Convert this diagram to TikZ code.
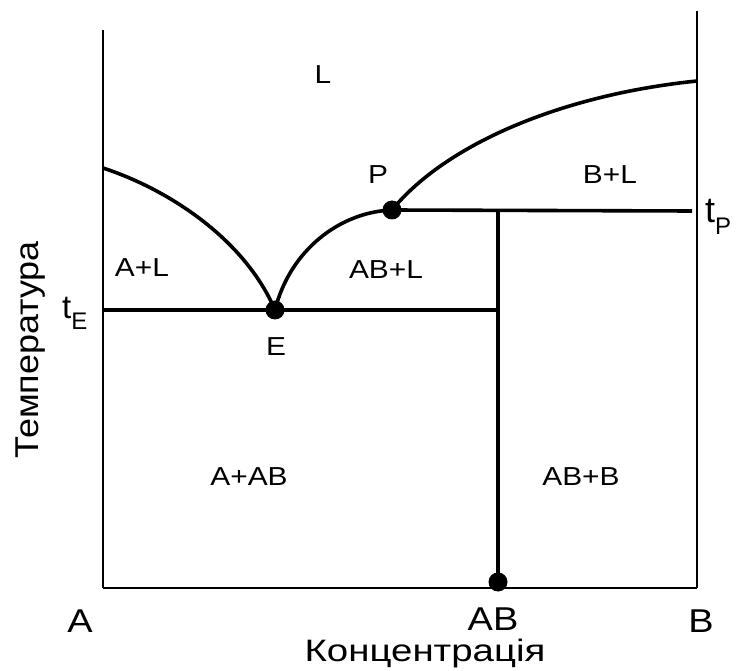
\documentclass[tikz,border=0pt]{standalone}
\usepackage{fontspec}
\setmainfont{Liberation Sans}
\begin{document}
\begin{tikzpicture}[x=1pt,y=-1pt,
  thickline/.style={line width=3.6pt},
  frameline/.style={line width=2pt},
  dotnode/.style={circle,fill=black,inner sep=0pt,minimum size=19pt},
  region/.style={font=\fontsize{26}{26}\selectfont,xscale=1.15,inner sep=0pt},
  biglabel/.style={font=\fontsize{33}{33}\selectfont,xscale=1.15,inner sep=0pt}]
\useasboundingbox (0,0) rectangle (737,671);
% frame corners
\coordinate (LT) at (103,30);
\coordinate (LB) at (103,588);
\coordinate (RT) at (697,11);
\coordinate (RB) at (697,588);
\coordinate (LL) at (103,168);
\coordinate (RL) at (697,81);
\coordinate (TPend) at (692,211);
\coordinate (ABtop) at (498,211);
\coordinate (TEleft) at (103,310);
\coordinate (TEright) at (498,310);
\coordinate (ABbot) at (498,588);
% dots
\node[dotnode] (E) at (275,310) {};
\node[dotnode] (P) at (392,210) {};
\node[dotnode] (ABd) at (498,582) {};
% frame
\draw[frameline] (LT) -- (LB);
\draw[frameline] (RT) -- (RB);
\draw[line width=2.6pt] (LB) -- (RB);
% lines
\draw[thickline] (TEleft) -- (TEright);
\draw[thickline] (P.center) -- (TPend);
\draw[thickline] (ABtop) -- (ABbot);
% curves
\draw[thickline] (LL) .. controls (170,190) and (245,240) .. (E.center);
\draw[thickline] (E.center) .. controls (290,250) and (340,212) .. (P.center);
\draw[thickline] (P.center) .. controls (445,145) and (560,95) .. (RL);
% region labels
\node[region] (L) at (323,75) {L};
\node[region] (Plab) at (378,175) {P};
\node[region] (BL) at (610,175) {B+L};
\node[region] (AL) at (142,268) {A+L};
\node[region] (ABL) at (386,270) {AB+L};
\node[region] (Elab) at (276,347) {E};
\node[region] (AAB) at (249,477) {A+AB};
\node[region] (ABB) at (581,477) {AB+B};
% axis labels
\node[biglabel] (A) at (80,621) {A};
\node[biglabel] (AB) at (493,619) {AB};
\node[biglabel] (B) at (701,621) {B};
\node[anchor=base,inner sep=0pt,xscale=1.24,font=\fontsize{31}{31}\selectfont] (conc) at (425,661) {Концентрація};
\node[anchor=base,inner sep=0pt,rotate=90,xscale=1.09,font=\fontsize{33}{33}\selectfont] (temp) at (38,350) {Температура};
\node[anchor=base west,inner sep=0pt] (tP) at (705,223) {\fontsize{36}{36}\selectfont t\raisebox{-12pt}{\fontsize{24}{24}\selectfont P}};
\node[anchor=base west,inner sep=0pt] (tE) at (62,319) {\fontsize{33}{33}\selectfont t\raisebox{-11pt}{\fontsize{24}{24}\selectfont E}};
\end{tikzpicture}
\end{document}
